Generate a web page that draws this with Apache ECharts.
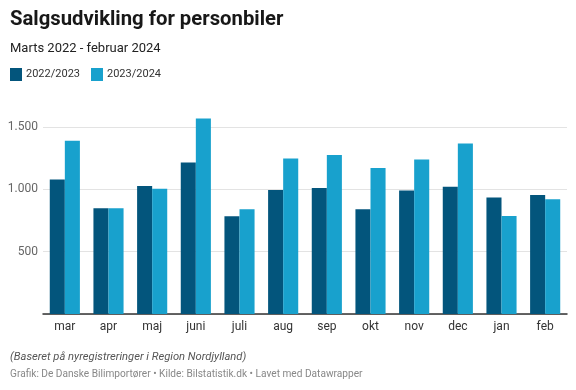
<!DOCTYPE html>
<html><head><meta charset="utf-8">
<script src="https://cdn.jsdelivr.net/npm/echarts@6/dist/echarts.min.js"></script>
<style>html,body{margin:0;padding:0;background:#fff}#c{width:576px;height:390px}</style>
</head><body><div id="c"></div>
<script>
const categories = ['mar','apr','maj','juni','juli','aug','sep','okt','nov','dec','jan','feb'];
const series2223 = [1079, 849, 1026, 1216, 785, 994, 1010, 841, 991, 1020, 934, 954];
const series2324 = [1390, 849, 1004, 1569, 841, 1248, 1275, 1171, 1240, 1368, 787, 921];
const yTicks = [0, 500, 1000, 1500];
const seriesNames = ['2022/2023', '2023/2024'];

const chart = echarts.init(document.getElementById('c'));
const font = 'Roboto, "Noto Sans", sans-serif';
chart.setOption({
  animation: false,
  textStyle: { fontFamily: font },
  title: [
    { text: 'Salgsudvikling for personbiler', left: 10, top: 10, padding: 0,
      textStyle: { fontSize: 20.3, fontWeight: 'bold', color: '#181818', fontFamily: font } },
    { text: 'Marts 2022 - februar 2024', left: 10, top: 42, padding: 0,
      textStyle: { fontSize: 13, fontWeight: 'normal', color: '#222', fontFamily: font } },
    { text: '(Baseret på nyregistreringer i Region Nordjylland)', left: 10, top: 352, padding: 0,
      textStyle: { fontSize: 11.2, fontStyle: 'italic', fontWeight: 'normal', color: '#555', fontFamily: font } },
    { text: 'Grafik: De Danske Bilimportører • Kilde: Bilstatistik.dk • Lavet med Datawrapper', left: 10, top: 369, padding: 0,
      textStyle: { fontSize: 10.15, fontWeight: 'normal', color: '#888', fontFamily: font } }
  ],
  legend: {
    left: 10, top: 68, padding: 0, itemWidth: 12, itemHeight: 13, itemGap: 11,
    icon: 'rect',
    textStyle: { fontSize: 11, color: '#333', fontFamily: font, padding: [0, 0, 0, -1] },
    data: seriesNames
  },
  grid: { left: 43, right: 9, top: 127, bottom: 76, containLabel: false },
  xAxis: {
    type: 'category', data: categories,
    axisTick: { show: false },
    axisLine: { lineStyle: { color: '#333', width: 1.5 } },
    axisLabel: { color: '#333', fontSize: 12, margin: 7, fontFamily: font }
  },
  yAxis: {
    type: 'value', min: yTicks[0], max: yTicks[yTicks.length - 1], interval: 500,
    axisLine: { show: false }, axisTick: { show: false },
    splitLine: { lineStyle: { color: '#e3e3e3', width: 1 } },
    axisLabel: { color: '#666', fontSize: 12, margin: 5, fontFamily: font,
      formatter: v => v === 0 ? '' : v.toLocaleString('da-DK').replace(/\./g, '.') }
  },
  series: [
    { name: seriesNames[0], type: 'bar', data: series2223, clip: false,
      itemStyle: { color: '#03557c' }, barGap: '0%', barCategoryGap: '31%' },
    { name: seriesNames[1], type: 'bar', data: series2324, clip: false,
      itemStyle: { color: '#18a1cd' }, barGap: '0%', barCategoryGap: '31%' }
  ]
});
</script></body></html>
